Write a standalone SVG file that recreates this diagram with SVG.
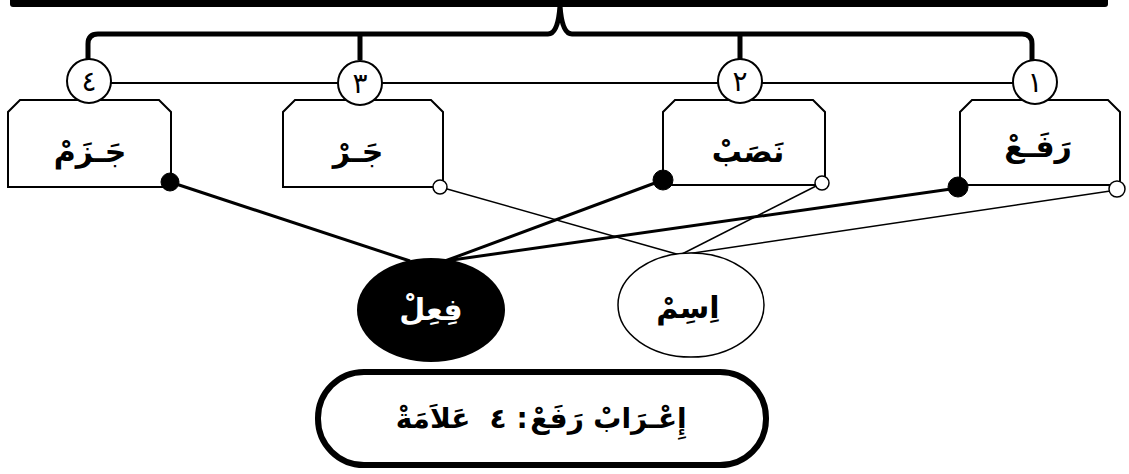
<svg xmlns="http://www.w3.org/2000/svg" width="1129" height="474" viewBox="0 0 1129 474">
<style>
.box{fill:#fff;stroke:#000;stroke-width:2}
.num{fill:#fff;stroke:#000;stroke-width:2}
.lbl{font-family:"DejaVu Sans",sans-serif;font-size:30px;font-weight:bold;text-anchor:middle;fill:#000}
.ttl{font-family:"DejaVu Sans",sans-serif;font-size:28px;font-weight:bold;text-anchor:middle;fill:#000}
.n{font-family:"DejaVu Sans",sans-serif;font-size:28px;text-anchor:middle;fill:#000}
.bd{fill:#000;stroke:#000;stroke-width:1}
.wd{fill:#fff;stroke:#000;stroke-width:1.5}
.thick{stroke:#000;stroke-width:3;fill:none}
.thin{stroke:#000;stroke-width:1.5;fill:none}
</style>
<rect x="0" y="0" width="1129" height="474" fill="#fff"/>
<g id="brace">
<rect x="10" y="-4" width="1098" height="11" rx="3" fill="#000"/>
<path d="M88 60 L88 44 Q88 34 98 34 L548 34 Q558 34 560 6 Q562 34 572 34 L1022 34 Q1032 34 1032 44 L1032 60 M360 34 L360 60 M740 34 L740 60" fill="none" stroke="#000" stroke-width="5"/>
<line x1="100" y1="83" x2="1020" y2="83" stroke="#000" stroke-width="2"/>
</g>
<g id="connectors">
<line class="thick" x1="170" y1="182" x2="410" y2="261"/>
<line class="thick" x1="663" y1="180" x2="445" y2="261"/>
<line class="thick" x1="958" y1="188" x2="445" y2="261"/>
<line class="thin" x1="440" y1="187" x2="680" y2="255"/>
<line class="thin" x1="822" y1="183" x2="680" y2="255"/>
<line class="thin" x1="1117" y1="190" x2="680" y2="255"/>
</g>
<g id="box4">
<path class="box" d="M8 187 L8 112 L20 100 L159 100 L171 112 L171 187 Z"/>
<text class="lbl" x="90" y="162">جَـزَمْ</text>
<circle class="bd" cx="170" cy="182" r="9"/>
</g>
<g id="box3">
<path class="box" d="M283 187 L283 112 L295 100 L431 100 L443 112 L443 187 Z"/>
<text class="lbl" x="358" y="162">جَـرْ</text>
<circle class="wd" cx="440" cy="187" r="7"/>
</g>
<g id="box2">
<path class="box" d="M663 185 L663 112 L675 100 L813 100 L825 112 L825 185 Z"/>
<text class="lbl" x="748" y="162">نَصَبْ</text>
<circle class="bd" cx="663" cy="180" r="10"/>
<circle class="wd" cx="822" cy="183" r="7"/>
</g>
<g id="box1">
<path class="box" d="M960 185 L960 112 L972 100 L1108 100 L1120 112 L1120 185 Z"/>
<text class="lbl" x="1038" y="157">رَفَـعْ</text>
<circle class="bd" cx="958" cy="187" r="10"/>
<circle class="wd" cx="1117" cy="189" r="8"/>
</g>
<g id="n4"><circle class="num" cx="89" cy="81" r="22"/><text class="n" x="89" y="91">٤</text></g>
<g id="n3"><circle class="num" cx="360" cy="83" r="22"/><text class="n" x="360" y="93">٣</text></g>
<g id="n2"><circle class="num" cx="740" cy="81" r="22"/><text class="n" x="740" y="91">٢</text></g>
<g id="n1"><circle class="num" cx="1035" cy="82" r="22"/><text class="n" x="1035" y="92">١</text></g>
<g id="fil">
<ellipse cx="431" cy="310" rx="74" ry="52" fill="#000"/>
<text class="lbl" x="431" y="320" style="fill:#fff">فِعِلْ</text>
</g>
<g id="ism">
<ellipse cx="691" cy="305" rx="73" ry="52" fill="#fff" stroke="#000" stroke-width="1.5"/>
<text class="lbl" x="688" y="318">اِسِمْ</text>
</g>
<g id="title">
<rect x="318" y="372" width="448" height="93" rx="46" fill="#fff" stroke="#000" stroke-width="6"/>
<text class="ttl" x="433" y="428">عَلاَمَةْ</text>
<text class="ttl" x="498" y="428">٤</text>
<text class="ttl" x="522" y="428">:</text>
<text class="ttl" x="557" y="428">رَفَعْ</text>
<text class="ttl" x="640" y="428">إِعْـرَابْ</text>
</g>
</svg>
